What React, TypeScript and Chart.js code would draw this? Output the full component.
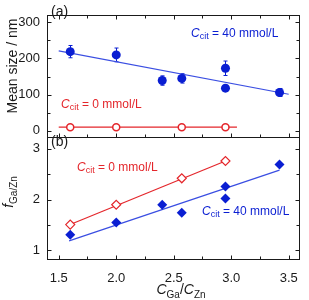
import { useEffect, useRef } from 'react';
import { Chart, registerables } from 'chart.js';
Chart.register(...registerables);

// ---- data ----
const ratio40 = [1.6, 2.0, 2.4, 2.57, 2.95, 2.95, 3.42];
const size40 = [219, 210, 139, 145, 173, 118, 106];
const sizeErr40 = [17, 19, 13, 13, 20, 5, 11];
const ratio0 = [1.6, 2.0, 2.57, 2.95];
const size0 = [10, 10, 10, 10];
const fitSize40X = [1.5, 3.5];
const fitSize40Y = [221, 101];
const fitSize0X = [1.5, 3.05];
const fitSize0Y = [10, 10];
const f0 = [1.51, 1.9, 2.42, 2.76];
const f40 = [1.31, 1.55, 1.9, 1.74, 2.26, 2.02, 2.69];
const fitF0X = [1.6, 2.95];
const fitF0Y = [1.51, 2.76];
const fitF40X = [1.59, 3.42];
const fitF40Y = [1.19, 2.58];
const xTicks = [1.5, 2, 2.5, 3, 3.5];
const xMinor = [1.75, 2.25, 2.75, 3.25];
const sizeTicks = [0, 100, 200, 300];
const sizeMinor = [50, 150, 250];
const fTicks = [1, 2, 3];
const fMinor = [1.5, 2.5];

const BLUE = '#0a1ed2';
const BLUE_LINE = '#3a4ee2';
const RED = '#e4262b';
const INK = '#1a1a1a';
const FONT = 'Liberation Sans, Arial, sans-serif';

const pts = (xs: number[], ys: number[]) => xs.map((x, i) => ({ x, y: ys[i] }));

type Seg = { t: string; font: string; dy?: number };
function drawRich(ctx: CanvasRenderingContext2D, segs: Seg[], x: number, y: number, center: boolean, color: string) {
  ctx.textAlign = 'left';
  ctx.textBaseline = 'alphabetic';
  ctx.fillStyle = color;
  let total = 0;
  for (const s of segs) {
    ctx.font = s.font;
    total += ctx.measureText(s.t).width;
  }
  let cx = center ? x - total / 2 : x;
  for (const s of segs) {
    ctx.font = s.font;
    ctx.fillText(s.t, cx, y + (s.dy || 0));
    cx += ctx.measureText(s.t).width;
  }
}

const framePlugin = {
  id: 'frame',
  beforeDatasetsDraw(chart: any) {
    const ctx = chart.ctx as CanvasRenderingContext2D;
    const ys = chart.scales.y;
    const xs = chart.scales.x;
    ctx.save();
    ctx.strokeStyle = BLUE;
    ctx.lineWidth = 1;
    ratio40.forEach((xv, i) => {
      const e = sizeErr40[i];
      const px = Math.round(xs.getPixelForValue(xv)) + 0.5;
      const y1 = ys.getPixelForValue(size40[i] + e);
      const y2 = ys.getPixelForValue(size40[i] - e);
      ctx.beginPath();
      ctx.moveTo(px, y1);
      ctx.lineTo(px, y2);
      ctx.moveTo(px - 2, y1);
      ctx.lineTo(px + 2, y1);
      ctx.moveTo(px - 2, y2);
      ctx.lineTo(px + 2, y2);
      ctx.stroke();
    });
    ctx.restore();
  },
  afterDraw(chart: any) {
    const ctx = chart.ctx as CanvasRenderingContext2D;
    const { left, right, top, bottom } = chart.chartArea;
    const ys = chart.scales.y;
    const yf = chart.scales.yf;
    const xs = chart.scales.x;
    const mid = Math.min(ys.bottom, yf.bottom);
    ctx.save();
    ctx.strokeStyle = INK;
    ctx.lineWidth = 1;
    const L = Math.round(left) + 0.5;
    const R = Math.round(right) - 0.5;
    const T = Math.round(top) + 0.5;
    const B = Math.round(bottom) - 0.5;
    const M = Math.round(mid) + 0.5;
    ctx.strokeRect(L, T, R - L, B - T);
    ctx.beginPath();
    ctx.moveTo(L, M);
    ctx.lineTo(R, M);
    const drawX = (v: number, len: number) => {
      const px = Math.round(xs.getPixelForValue(v)) + 0.5;
      ctx.moveTo(px, B);
      ctx.lineTo(px, B - len);
      ctx.moveTo(px, M);
      ctx.lineTo(px, M - len);
      ctx.moveTo(px, T);
      ctx.lineTo(px, T + len);
    };
    xTicks.forEach((v) => drawX(v, 4));
    xMinor.forEach((v) => drawX(v, 3));
    const drawY = (scale: any, v: number, len: number) => {
      const py = Math.round(scale.getPixelForValue(v)) + 0.5;
      ctx.moveTo(L, py);
      ctx.lineTo(L + len, py);
      ctx.moveTo(R, py);
      ctx.lineTo(R - len, py);
    };
    sizeTicks.forEach((v) => drawY(ys, v, 4));
    sizeMinor.forEach((v) => drawY(ys, v, 3));
    fTicks.forEach((v) => drawY(yf, v, 4));
    fMinor.forEach((v) => drawY(yf, v, 3));
    ctx.stroke();

    const f12 = `12px ${FONT}`;
    const f12i = `italic 12px ${FONT}`;
    const f9 = `9px ${FONT}`;
    drawRich(ctx, [{ t: '(a)', font: `14px ${FONT}` }], left + 4, 16, false, INK);
    drawRich(ctx, [{ t: '(b)', font: `14px ${FONT}` }], left + 4, 146, false, INK);
    drawRich(ctx, [{ t: 'C', font: f12i }, { t: 'cit', font: f9, dy: 2 }, { t: ' = 40 mmol/L', font: f12 }], 191, 37, false, BLUE);
    drawRich(ctx, [{ t: 'C', font: f12i }, { t: 'cit', font: f9, dy: 2 }, { t: ' = 0 mmol/L', font: f12 }], 61, 108, false, RED);
    drawRich(ctx, [{ t: 'C', font: f12i }, { t: 'cit', font: f9, dy: 2 }, { t: ' = 0 mmol/L', font: f12 }], 77, 171, false, RED);
    drawRich(ctx, [{ t: 'C', font: f12i }, { t: 'cit', font: f9, dy: 2 }, { t: ' = 40 mmol/L', font: f12 }], 202, 215, false, BLUE);

    const f14 = `14px ${FONT}`;
    const f14i = `italic 14px ${FONT}`;
    const f10 = `10px ${FONT}`;
    drawRich(ctx, [{ t: 'C', font: f14i }, { t: 'Ga', font: f10, dy: 3.5 }, { t: '/', font: f14 }, { t: 'C', font: f14i }, { t: 'Zn', font: f10, dy: 3.5 }], 181, 294, true, INK);

    ctx.save();
    ctx.translate(17, 66);
    ctx.rotate(-Math.PI / 2);
    drawRich(ctx, [{ t: 'Mean size / nm', font: f14 }], 0, 0, true, INK);
    ctx.restore();

    ctx.save();
    ctx.translate(13, 192);
    ctx.rotate(-Math.PI / 2);
    drawRich(ctx, [{ t: 'f', font: f14i }, { t: 'Ga/Zn', font: f10, dy: 4 }], 0, 0, true, INK);
    ctx.restore();

    ctx.restore();
  },
};

export default function App() {
  const ref = useRef<HTMLCanvasElement | null>(null);
  useEffect(() => {
    if (!ref.current) return;
    const tickFont = { family: FONT, size: 13 };
    const chart = new Chart(ref.current, {
      type: 'scatter',
      data: {
        datasets: [
          { data: pts(ratio40, size40), yAxisID: 'y', showLine: false, pointRadius: 4.5, pointBackgroundColor: BLUE, pointBorderColor: BLUE, pointBorderWidth: 0, order: 0 },
          { data: pts(ratio0, size0), yAxisID: 'y', showLine: false, pointRadius: 3.5, pointBackgroundColor: '#ffffff', pointBorderColor: RED, pointBorderWidth: 1.5, order: 0 },
          { data: pts(ratio0, f0), yAxisID: 'yf', showLine: false, pointStyle: 'rectRot', pointRadius: 4.5, pointBackgroundColor: '#ffffff', pointBorderColor: RED, pointBorderWidth: 1.2, order: 0 },
          { data: pts(ratio40, f40), yAxisID: 'yf', showLine: false, pointStyle: 'rectRot', pointRadius: 5, pointBackgroundColor: BLUE, pointBorderColor: BLUE, pointBorderWidth: 0, order: 0 },
          { data: pts(fitSize40X, fitSize40Y), yAxisID: 'y', showLine: true, pointRadius: 0, borderColor: BLUE_LINE, borderWidth: 1.2, order: 1 },
          { data: pts(fitSize0X, fitSize0Y), yAxisID: 'y', showLine: true, pointRadius: 0, borderColor: RED, borderWidth: 1.2, order: 1 },
          { data: pts(fitF0X, fitF0Y), yAxisID: 'yf', showLine: true, pointRadius: 0, borderColor: RED, borderWidth: 1.2, order: 1 },
          { data: pts(fitF40X, fitF40Y), yAxisID: 'yf', showLine: true, pointRadius: 0, borderColor: BLUE_LINE, borderWidth: 1.2, order: 1 },
        ],
      },
      options: {
        animation: false,
        responsive: false,
        layout: { padding: { left: 0, right: 2.5, top: 1, bottom: 0 } },
        plugins: { legend: { display: false }, tooltip: { enabled: false } },
        scales: {
          x: {
            type: 'linear',
            min: 1.398,
            max: 3.597,
            grid: { display: false, drawTicks: false },
            border: { display: false },
            ticks: { font: tickFont, color: INK, padding: 11 },
            afterBuildTicks: (s: any) => { s.ticks = xTicks.map((v) => ({ value: v })); },
            afterFit: (s: any) => { s.height = 40; },
          },
          yf: {
            type: 'linear',
            position: 'left',
            stack: 'panels',
            stackWeight: 1,
            min: 0.813,
            max: 3.224,
            grid: { display: false, drawTicks: false },
            border: { display: false },
            ticks: { font: tickFont, color: INK, padding: 7 },
            afterBuildTicks: (s: any) => { s.ticks = fTicks.map((v) => ({ value: v })); },
            afterFit: (s: any) => { s.width = 47; },
          },
          y: {
            type: 'linear',
            position: 'left',
            stack: 'panels',
            stackWeight: 1,
            min: -18.3,
            max: 320.9,
            grid: { display: false, drawTicks: false },
            border: { display: false },
            ticks: { font: tickFont, color: INK, padding: 7 },
            afterBuildTicks: (s: any) => { s.ticks = sizeTicks.map((v) => ({ value: v })); },
            afterFit: (s: any) => { s.width = 47; },
          },
        },
      } as any,
      plugins: [framePlugin],
    });
    return () => chart.destroy();
  }, []);
  return (
    <canvas
      ref={ref}
      width={309}
      height={300}
      style={{ position: 'fixed', left: 0, top: 0, width: 309, height: 300, display: 'block', background: '#fff' }}
    />
  );
}
